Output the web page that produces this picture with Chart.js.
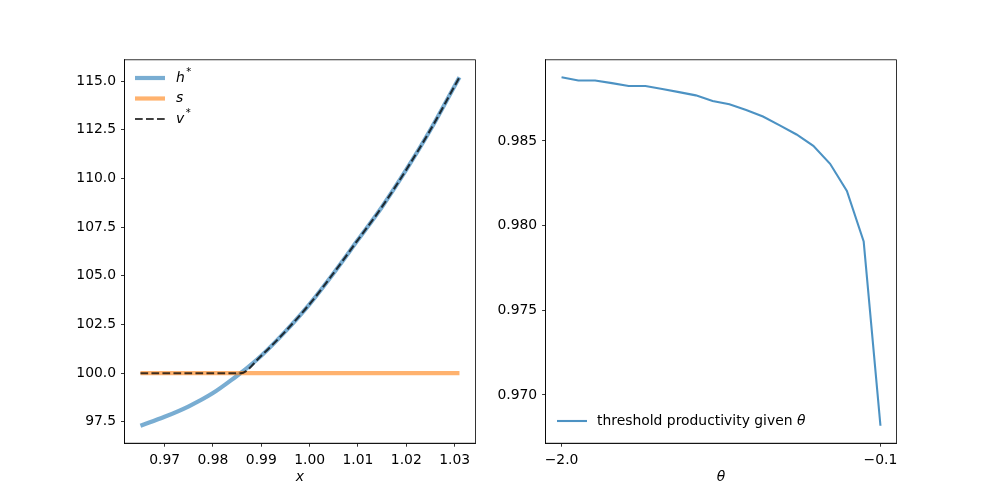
<!DOCTYPE html>
<html>
<head>
<meta charset="utf-8">
<script src="https://cdn.jsdelivr.net/npm/chart.js@4.4.1/dist/chart.umd.min.js"></script>
<style>
  body { margin: 0; background: #fff; }
  #wrap { position: relative; width: 996px; height: 498px; }
  canvas { position: absolute; top: 0; }
</style>
</head>
<body>
<div id="wrap">
  <canvas id="leftChart" width="498" height="498" style="left:0"></canvas>
  <canvas id="rightChart" width="498" height="498" style="left:498px"></canvas>
</div>
<script>
// Left panel: values against productivity x
const leftX = [0.965, 0.970, 0.975, 0.980, 0.985, 0.9857, 0.990, 0.995, 1.000, 1.005, 1.010, 1.015, 1.020, 1.025, 1.030, 1.031];
const hStar = [97.30, 97.76, 98.30, 98.98, 99.87, 100.00, 100.90, 102.15, 103.55, 105.15, 106.85, 108.55, 110.45, 112.50, 114.75, 115.20];
const sLine = [100, 100, 100, 100, 100, 100, 100, 100, 100, 100, 100, 100, 100, 100, 100, 100];
const vStar = [100.00, 100.00, 100.00, 100.00, 100.00, 100.00, 100.90, 102.15, 103.55, 105.15, 106.85, 108.55, 110.45, 112.50, 114.75, 115.20];
const leftXTicks = [0.97, 0.98, 0.99, 1.00, 1.01, 1.02, 1.03];
const leftYTicks = [97.5, 100.0, 102.5, 105.0, 107.5, 110.0, 112.5, 115.0];

// Right panel: threshold productivity against theta
const theta = [-2.0, -1.9, -1.8, -1.7, -1.6, -1.5, -1.4, -1.3, -1.2, -1.1, -1.0, -0.9, -0.8, -0.7, -0.6, -0.5, -0.4, -0.3, -0.2, -0.1];
const threshold = [0.98876, 0.98857, 0.98857, 0.98841, 0.98824, 0.98824, 0.98806, 0.98788, 0.98769, 0.98736, 0.98716, 0.98682, 0.98644, 0.98592, 0.98538, 0.98471, 0.98365, 0.98204, 0.97906, 0.96818];
const rightXTicks = [-2.0, -0.1];
const rightYTicks = [0.970, 0.975, 0.980, 0.985];

const FONT = 'DejaVu Sans';
const tickFont = { family: FONT, size: 13.9 };

// matplotlib-like 5% margins
function padRange(arr) {
    const lo = Math.min(...arr), hi = Math.max(...arr);
    const m = (hi - lo) * 0.05;
    return { min: lo - m, max: hi + m };
}

function minusSign(s) {
    return s.replace('-', '\u2212');
}

// Axis with ticks outside, no grid
function axis(range, ticks, fmt, size, horizontal, title) {
    const a = {
        type: 'linear',
        min: range.min,
        max: range.max,
        afterBuildTicks: s => { s.ticks = ticks.map(v => ({ value: v })); },
        afterFit: s => { if (horizontal) s.height = size; else s.width = size; },
        grid: { drawOnChartArea: false, drawTicks: true, tickLength: 3.5, tickWidth: 0.8, tickColor: '#000' },
        border: { display: true, color: '#000', width: 0.8 },
        ticks: { color: '#000', font: tickFont, padding: 4.9, maxRotation: 0, autoSkip: false, callback: v => minusSign(fmt(v)) }
    };
    if (title) {
        a.title = { display: true, text: title, color: '#000', font: { family: FONT, size: 13.9, style: 'italic' }, padding: { top: 0, bottom: 12.5 } };
    }
    return a;
}

// Draws the full box around the plot area
const framePlugin = {
    id: 'frame',
    afterDraw(chart) {
        const { ctx, chartArea: c } = chart;
        ctx.save();
        ctx.strokeStyle = '#000';
        ctx.lineWidth = 0.8;
        ctx.strokeRect(c.left, c.top, c.right - c.left, c.bottom - c.top);
        ctx.restore();
    }
};

// Legend without frame, with mathtext-like superscripts
const legendPlugin = {
    id: 'mplLegend',
    afterDraw(chart, args, opts) {
        const ctx = chart.ctx;
        opts.items.forEach((item, i) => {
            const y = opts.y + i * opts.rowGap;
            ctx.save();
            ctx.strokeStyle = item.color;
            ctx.lineWidth = item.width;
            ctx.setLineDash(item.dash || []);
            ctx.beginPath();
            ctx.moveTo(opts.x, y);
            ctx.lineTo(opts.x + 30, y);
            ctx.stroke();
            ctx.setLineDash([]);
            let tx = opts.x + opts.textGap;
            item.parts.forEach(p => {
                const size = p.sup ? 10 : 13.9;
                ctx.font = (p.italic ? 'italic ' : '') + size + 'px "' + FONT + '"';
                ctx.fillStyle = '#000';
                ctx.textBaseline = 'middle';
                ctx.fillText(p.t, tx + (p.sup ? 1.5 : 0), y + (p.sup ? -5.5 : 0));
                tx += ctx.measureText(p.t).width + (p.sup ? 1.5 : 0);
            });
            ctx.restore();
        });
    }
};

const blue = 'rgba(31,119,180,0.6)';
const orange = 'rgba(255,127,14,0.6)';
const dark = 'rgba(0,0,0,0.75)';

function points(xs, ys) {
    return xs.map((x, i) => ({ x: x, y: ys[i] }));
}

new Chart(document.getElementById('leftChart'), {
    type: 'line',
    data: {
        datasets: [
            { label: 'h*', data: points(leftX, hStar), borderColor: blue, borderWidth: 4.2, pointRadius: 0, cubicInterpolationMode: 'monotone', order: 3 },
            { label: 's', data: points(leftX, sLine), borderColor: orange, borderWidth: 4.2, pointRadius: 0, order: 2 },
            { label: 'v*', data: points(leftX, vStar), borderColor: dark, borderWidth: 2.1, borderDash: [7.7, 3.3], pointRadius: 0, cubicInterpolationMode: 'monotone', order: 1 }
        ]
    },
    options: {
        responsive: false,
        animation: false,
        layout: { padding: { top: 59.8, right: 22.6, bottom: 0, left: 0 } },
        plugins: {
            legend: { display: false },
            tooltip: { enabled: false },
            mplLegend: {
                x: 135, y: 78, rowGap: 20.5, textGap: 41,
                items: [
                    { color: blue, width: 4.2, parts: [{ t: 'h', italic: true }, { t: '*', sup: true }] },
                    { color: orange, width: 4.2, parts: [{ t: 's', italic: true }] },
                    { color: dark, width: 2.1, dash: [7.7, 3.3], parts: [{ t: 'v', italic: true }, { t: '*', sup: true }] }
                ]
            }
        },
        scales: {
            x: axis(padRange(leftX), leftXTicks, v => v.toFixed(2), 54.8, true, 'x'),
            y: axis(padRange(hStar), leftYTicks, v => v.toFixed(1), 124.5, false)
        }
    },
    plugins: [framePlugin, legendPlugin]
});

new Chart(document.getElementById('rightChart'), {
    type: 'line',
    data: {
        datasets: [
            { label: 'threshold productivity given \u03b8', data: points(theta, threshold), borderColor: 'rgba(31,119,180,0.8)', borderWidth: 2.1, pointRadius: 0, tension: 0 }
        ]
    },
    options: {
        responsive: false,
        animation: false,
        layout: { padding: { top: 59.8, right: 99.6, bottom: 0, left: 0 } },
        plugins: {
            legend: { display: false },
            tooltip: { enabled: false },
            mplLegend: {
                x: 59, y: 421, rowGap: 20.5, textGap: 40,
                items: [
                    { color: 'rgba(31,119,180,0.8)', width: 2.1, parts: [{ t: 'threshold productivity given ' }, { t: '\u03b8', italic: true }] }
                ]
            }
        },
        scales: {
            x: axis(padRange(theta), rightXTicks, v => v.toFixed(1), 54.8, true, '\u03b8'),
            y: axis(padRange(threshold), rightYTicks, v => v.toFixed(3), 47.6, false)
        }
    },
    plugins: [framePlugin, legendPlugin]
});
</script>
</body>
</html>
